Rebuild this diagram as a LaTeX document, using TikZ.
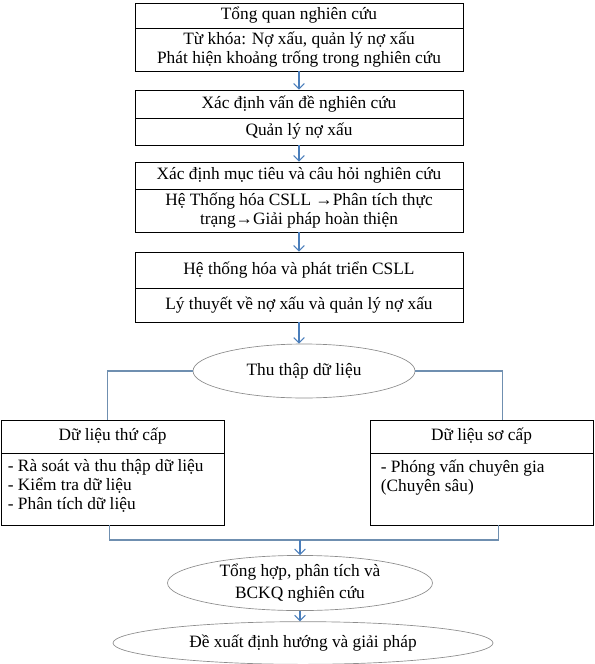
\documentclass[tikz,border=0pt]{standalone}
\usepackage{fontspec}
\setmainfont{Liberation Serif}
\usetikzlibrary{shapes.geometric,arrows.meta,calc}
\definecolor{arrowblue}{HTML}{4A7EBB}
\definecolor{lineblue}{HTML}{6F8FB0}
\definecolor{ellgray}{HTML}{8C8C8C}
\begin{document}
\begin{tikzpicture}[x=0.75pt,y=-0.75pt,
  txt/.style={inner sep=0pt, font=\fontsize{13}{14}\selectfont},
  box/.style={txt, draw=black, line width=0.6pt, rectangle, minimum width=246pt, align=center},
  sidebox/.style={box, minimum width=167.25pt},
  ell/.style={txt, draw=ellgray, line width=0.5pt, ellipse, align=center},
  arr/.style={draw=arrowblue, line width=0.8pt, -{Straight Barb[length=4pt,width=8pt]}},
  conn/.style={draw=lineblue, line width=0.8pt}]
\useasboundingbox (0,0) rectangle (594,664);

% main column of boxes
\node[box, minimum height=18.75pt] (b1h) at (299,15.5) {Tổng quan nghiên cứu};
\node[box, minimum height=32.25pt] (b1b) at (299,49.5) {Từ khóa: Nợ xấu, quản lý nợ xấu\\Phát hiện khoảng trống trong nghiên cứu};

\node[box, minimum height=21pt] (b2h) at (299,104) {Xác định vấn đề nghiên cứu};
\node[box, minimum height=20.25pt] (b2b) at (299,131.5) {Quản lý nợ xấu};

\node[box, minimum height=20.25pt] (b3h) at (299,175.5) {Xác định mục tiêu và câu hỏi nghiên cứu};
\node[box, minimum height=32.25pt] (b3b) at (299,210.5) {Hệ Thống hóa CSLL →Phân tích thực\\trạng→Giải pháp hoàn thiện};

\node[box, minimum height=27pt] (b4h) at (299,270) {Hệ thống hóa và phát triển CSLL};
\node[box, minimum height=25.5pt] (b4b) at (299,305) {Lý thuyết về nợ xấu và quản lý nợ xấu};

% data collection
\node[ell, minimum width=166.5pt, minimum height=40.5pt] (thu) at (304,371) {Thu thập dữ liệu};

\node[sidebox, minimum height=24.75pt] (l1) at (112.5,436.5) {Dữ liệu thứ cấp};
\node[sidebox, minimum height=54pt] (l2) at (112.5,489) {};
\node[txt, anchor=north west, align=left] (l2t) at ($(l2.north west)+(7,7)$) {- Rà soát và thu thập dữ liệu\\- Kiểm tra dữ liệu\\- Phân tích dữ liệu};

\node[sidebox, minimum height=24.75pt] (r1) at (481.5,436.5) {Dữ liệu sơ cấp};
\node[sidebox, minimum height=54pt] (r2) at (481.5,489) {};
\node[txt, anchor=north west, align=left] (r2t) at ($(r2.north west)+(11,7)$) {- Phóng vấn chuyên gia\\(Chuyên sâu)};

% synthesis
\node[ell, minimum width=198.75pt, minimum height=38.25pt, font=\fontsize{13}{17}\selectfont] (tong) at (300,583) {Tổng hợp, phân tích và\\BCKQ nghiên cứu};
\node[ell, minimum width=285pt, minimum height=32pt] (dx) at (303,643) {Đề xuất định hướng và giải pháp};

% arrows between boxes
\draw[arr] (b1b.south) -- (b2h.north);
\draw[arr] (b2b.south) -- (b3h.north);
\draw[arr] (b3b.south) -- (b4h.north);
\draw[arr] (b4b.south) -- (b4b.south |- thu.north);

% branches
\coordinate (lt) at ([xshift=-4pt]l1.north);
\coordinate (rt) at ([xshift=15.4pt]r1.north);
\draw[conn] (thu.west) -| (lt);
\draw[conn] (thu.east) -| (rt);

\coordinate (lb) at ([xshift=-2.5pt]l2.south);
\coordinate (rb) at ([xshift=13pt]r2.south);
\coordinate (bot) at (300,540);
\draw[conn] (lb) |- (bot) -| (rb);
\draw[arr] (bot) -- (tong.north);
\draw[arr] (tong.south) -- (tong.south |- dx.north);
\end{tikzpicture}
\end{document}
